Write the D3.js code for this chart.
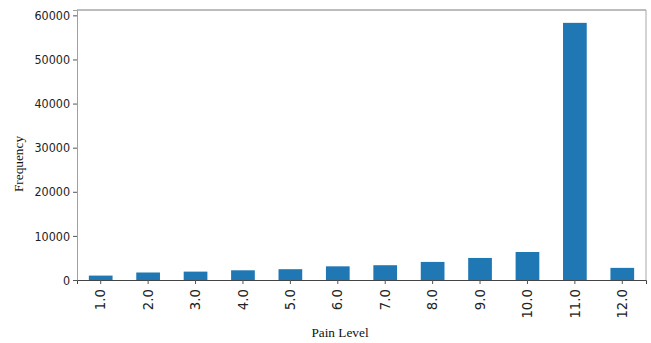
<!DOCTYPE html>
<html>
<head>
<meta charset="utf-8">
<script src="https://cdn.jsdelivr.net/npm/d3@7"></script>
<style>
  html, body { margin: 0; padding: 0; background: #fff; }
  svg { display: block; }
</style>
</head>
<body>
<svg id="chart" width="651" height="343"></svg>
<script>
// Pain level categories and their frequencies
const painLevels = ["1.0", "2.0", "3.0", "4.0", "5.0", "6.0", "7.0", "8.0", "9.0", "10.0", "11.0", "12.0"];
const frequencies = [1000, 1700, 1900, 2200, 2450, 3100, 3350, 4100, 5000, 6350, 58300, 2750];
const yTicks = [0, 10000, 20000, 30000, 40000, 50000, 60000];

const svg = d3.select("#chart");
const margin = { top: 10, right: 5, bottom: 63, left: 77 };
const width = 651 - margin.left - margin.right;
const height = 343 - margin.top - margin.bottom;

const g = svg.append("g").attr("transform", `translate(${margin.left},${margin.top})`);

const x = d3.scaleBand().domain(painLevels).range([0, width]).paddingInner(0.5).paddingOuter(0.25);
const y = d3.scaleLinear().domain([0, d3.max(frequencies) * 1.05]).range([height, 0]);

// bars
g.selectAll("rect.bar")
  .data(painLevels)
  .join("rect")
  .attr("class", "bar")
  .attr("x", d => x(d))
  .attr("width", x.bandwidth())
  .attr("y", (d, i) => y(frequencies[i]))
  .attr("height", (d, i) => height - y(frequencies[i]))
  .attr("fill", "#1f77b4");

// frame: top / right spines
g.append("line").attr("x1", 0).attr("x2", width).attr("y1", 0).attr("y2", 0)
  .attr("stroke", "#7a7a7a");
g.append("line").attr("x1", width).attr("x2", width).attr("y1", 0).attr("y2", height)
  .attr("stroke", "#a8a8a8");

// y axis
const yScaleX = 0.86;
const yAxis = g.append("g")
  .call(d3.axisLeft(y).tickValues(yTicks).tickFormat(d3.format("d")).tickSize(4).tickPadding(3));
yAxis.select(".domain").attr("stroke", "#a0a0a0");
yAxis.selectAll(".tick line").attr("stroke", "#555");
yAxis.selectAll("text")
  .attr("font-family", "DejaVu Sans, sans-serif")
  .attr("font-size", 13)
  .attr("fill", "#222")
  .attr("x", -7 / yScaleX)
  .attr("transform", `scale(${yScaleX},1)`);

// x axis
const xAxis = g.append("g")
  .attr("transform", `translate(0,${height})`)
  .call(d3.axisBottom(x).tickSize(4).tickPadding(0));
xAxis.select(".domain").attr("stroke", "#444");
xAxis.selectAll(".tick line").attr("stroke", "#555");
xAxis.selectAll("text")
  .attr("font-family", "DejaVu Sans, sans-serif")
  .attr("font-size", 13.3)
  .attr("fill", "#222")
  .attr("transform", "rotate(-90)")
  .attr("text-anchor", "end")
  .attr("x", -9)
  .attr("y", 0)
  .attr("dy", "0.35em");

// axis titles
svg.append("text")
  .attr("x", 340)
  .attr("y", 337)
  .attr("text-anchor", "middle")
  .attr("font-family", "Liberation Serif, Times New Roman, serif")
  .attr("font-size", 13.3)
  .attr("fill", "#111")
  .text("Pain Level");

svg.append("text")
  .attr("transform", `translate(23,164) rotate(-90)`)
  .attr("text-anchor", "middle")
  .attr("font-family", "Liberation Serif, Times New Roman, serif")
  .attr("font-size", 13.3)
  .attr("fill", "#111")
  .text("Frequency");
</script>
</body>
</html>
